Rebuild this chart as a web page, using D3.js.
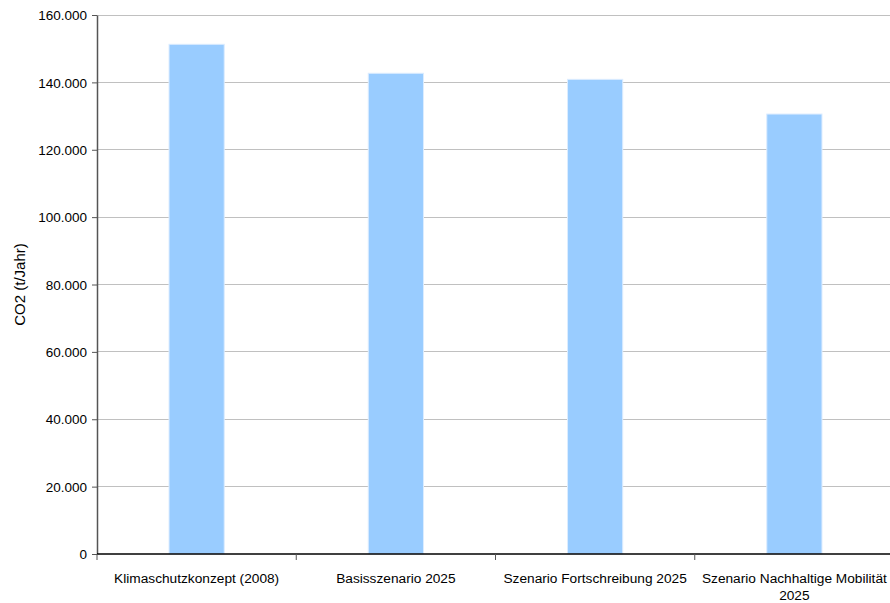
<!DOCTYPE html>
<html><head><meta charset="utf-8">
<script src="https://cdn.jsdelivr.net/npm/d3@7"></script>
<style>body{margin:0;background:#fff}svg{display:block}text{font-family:"Liberation Sans",Arial,sans-serif;font-size:13.7px;fill:#000}</style>
</head><body><svg id="c" width="890" height="603"></svg>
<script>
const categories = ["Klimaschutzkonzept (2008)", "Basisszenario 2025", "Szenario Fortschreibung 2025", "Szenario Nachhaltige Mobilität 2025"];
const values = [151300, 142700, 140900, 130600];
const yTicks = [0, 20000, 40000, 60000, 80000, 100000, 120000, 140000, 160000];
const yTickLabels = ["0", "20.000", "40.000", "60.000", "80.000", "100.000", "120.000", "140.000", "160.000"];
const yTitle = "CO2 (t/Jahr)";

const svg = d3.select("#c");
const W = 890, H = 603;
const m = {l: 97, r: -4, t: 15, b: 49};
const x = d3.scaleBand().domain(categories).range([m.l, W - m.r]);
const y = d3.scaleLinear().domain([0, 160000]).range([H - m.b, m.t]);

// gridlines
svg.append("g").selectAll("line").data(yTicks.filter(d => d > 0)).join("line")
  .attr("x1", m.l).attr("x2", W).attr("y1", d => y(d)).attr("y2", d => y(d))
  .attr("stroke", "#c0c0c0").attr("stroke-width", 1).attr("shape-rendering", "crispEdges");

// bars
const bw = x.bandwidth() * 0.277;
svg.append("g").selectAll("rect").data(categories).join("rect")
  .attr("x", d => x(d) + x.bandwidth() / 2 - bw / 2)
  .attr("y", (d, i) => y(values[i]))
  .attr("width", bw)
  .attr("height", (d, i) => y(0) - y(values[i]))
  .attr("fill", "#99ccff").attr("stroke", "#dcecff").attr("stroke-width", 1);

// y axis
const yAxis = d3.axisLeft(y).tickValues(yTicks).tickSize(5).tickSizeOuter(0)
  .tickFormat((d, i) => yTickLabels[i]);
const gy = svg.append("g").attr("transform", `translate(${m.l},0)`).call(yAxis);
gy.select(".domain").attr("stroke", "#555").attr("stroke-width", 1.5);
gy.selectAll(".tick line").attr("stroke", "#555");
gy.selectAll(".tick text").attr("x", -10).attr("dy", "0.35em")
  .style("font-size", "13.5px").style("font-family", '"Liberation Sans",Arial,sans-serif').attr("fill", "#000");

// x axis
const gx = svg.append("g").attr("transform", `translate(0,${y(0)})`);
gx.append("line").attr("x1", m.l).attr("x2", W).attr("stroke", "#000").attr("stroke-width", 1.5);
const bounds = categories.map(c => x(c));
gx.selectAll(".tk").data(bounds).join("line").attr("class", "tk")
  .attr("x1", d => d).attr("x2", d => d).attr("y1", 0).attr("y2", 6)
  .attr("stroke", "#555").attr("stroke-width", 1);
const labels = gx.selectAll(".lb").data(categories).join("text").attr("class", "lb")
  .attr("text-anchor", "middle").attr("y", 29);
labels.each(function(d) {
  const t = d3.select(this);
  const cx = x(d) + x.bandwidth() / 2;
  const parts = d === "Szenario Nachhaltige Mobilität 2025" ? ["Szenario Nachhaltige Mobilität", "2025"] : [d];
  parts.forEach((p, i) => t.append("tspan").attr("x", cx).attr("dy", i === 0 ? 0 : 17).text(p));
});

// y title
svg.append("text").attr("transform", `translate(25,${(y(0) + y(160000)) / 2}) rotate(-90)`)
  .attr("text-anchor", "middle").style("font-size", "15px").text(yTitle);
</script></body></html>
